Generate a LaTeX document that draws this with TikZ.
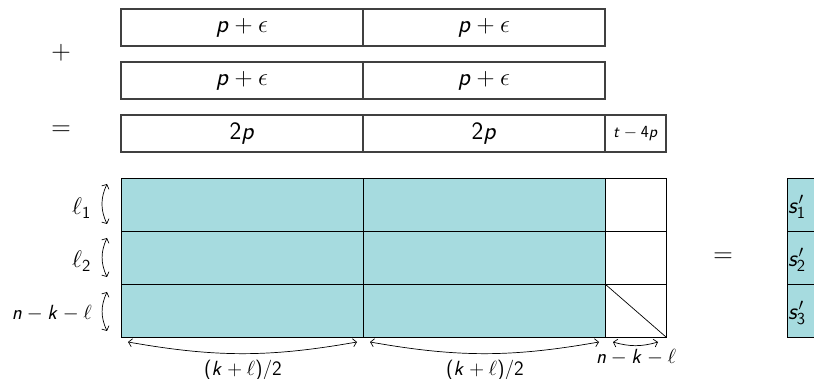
\documentclass[tikz,border=0pt]{standalone}
\usepackage{fix-cm}
\usetikzlibrary{arrows.meta}
\DeclareSymbolFont{sfoperators}{OT1}{cmss}{m}{n}
\DeclareSymbolFont{sfletters}{OT1}{cmss}{m}{sl}
\DeclareMathSymbol{p}{\mathalpha}{sfletters}{`p}
\DeclareMathSymbol{t}{\mathalpha}{sfletters}{`t}
\DeclareMathSymbol{k}{\mathalpha}{sfletters}{`k}
\DeclareMathSymbol{n}{\mathalpha}{sfletters}{`n}
\DeclareMathSymbol{s}{\mathalpha}{sfletters}{`s}
\DeclareMathSymbol{1}{\mathalpha}{sfoperators}{`1}
\DeclareMathSymbol{2}{\mathalpha}{sfoperators}{`2}
\DeclareMathSymbol{3}{\mathalpha}{sfoperators}{`3}
\DeclareMathSymbol{4}{\mathalpha}{sfoperators}{`4}
\DeclareMathSymbol{(}{\mathopen}{sfoperators}{`(}
\DeclareMathSymbol{)}{\mathclose}{sfoperators}{`)}
\DeclareMathSymbol{/}{\mathord}{sfoperators}{`/}
\definecolor{fillc}{RGB}{166,219,223}
\begin{document}
\begin{tikzpicture}[x=1pt,y=-1pt,
  topcell/.style={draw=black!75, line width=1.1pt, minimum height=37pt, inner sep=0pt, outer sep=0pt, anchor=west, font=\fontsize{25}{30}\selectfont},
  gridcell/.style={draw=black, line width=0.9pt, minimum height=53pt, inner sep=0pt, outer sep=0pt, anchor=west},
  bigsign/.style={inner sep=0pt, font=\fontsize{27}{32}\selectfont},
  lab/.style={inner sep=0pt, font=\fontsize{24}{28}\selectfont},
  small/.style={inner sep=0pt, font=\fontsize{20.5}{24}\selectfont},
  arcarrow/.style={{Straight Barb[length=3.5pt,width=8pt]}-{Straight Barb[length=3.5pt,width=8pt]}, line width=0.7pt}
]
\useasboundingbox (0,0) rectangle (814,379);
% top sums
\node[topcell, minimum width=242pt] (a1) at (121,27.5) {$p+\epsilon$};
\node[topcell, minimum width=242pt] (a2) at (363,27.5) {$p+\epsilon$};
\node[topcell, minimum width=242pt] (b1) at (121,80.5) {$p+\epsilon$};
\node[topcell, minimum width=242pt] (b2) at (363,80.5) {$p+\epsilon$};
\node[topcell, minimum width=242pt] (c1) at (121,133.5) {$2p$};
\node[topcell, minimum width=242pt] (c2) at (363,133.5) {$2p$};
\node[topcell, minimum width=61pt, font=\fontsize{17}{20}\selectfont] (c3) at (605,133.5) {$t-4p$};
\node[bigsign] (plus) at (61,53) {$+$};
\node[bigsign] (eqa) at (61,131) {$=$};
% grid
\foreach \r/\y in {1/204.5,2/257.5,3/310.5}{
  \node[gridcell, fill=fillc, minimum width=242pt] (g\r1) at (121,\y) {};
  \node[gridcell, fill=fillc, minimum width=242pt] (g\r2) at (363,\y) {};
  \node[gridcell, fill=white, minimum width=61pt] (g\r3) at (605,\y) {};
  \node[gridcell, fill=fillc, minimum width=60pt] (s\r) at (787,\y) {};
}
\draw[line width=0.7pt] (g33.north west) -- (g33.south east);
\node[lab, anchor=west] (sl1) at (788,207) {$s'_1$};
\node[lab, anchor=west] (sl2) at (788,260) {$s'_2$};
\node[lab, anchor=west] (sl3) at (788,313) {$s'_3$};
\node[bigsign] (eqb) at (723,258) {$=$};
% left labels
\node[lab, anchor=east] (l1) at (91,208) {$\ell_1$};
\node[lab, anchor=east] (l2) at (91,261) {$\ell_2$};
\node[small, anchor=east] (l3) at (92,313) {$n-k-\ell$};
\coordinate (r1t) at (107,184); \coordinate (r1b) at (107,224);
\coordinate (r2t) at (107,238); \coordinate (r2b) at (107,277);
\coordinate (r3t) at (107,292); \coordinate (r3b) at (107,331);
\draw[arcarrow] (r1t) to[bend right=25] (r1b);
\draw[arcarrow] (r2t) to[bend right=25] (r2b);
\draw[arcarrow] (r3t) to[bend right=25] (r3b);
% bottom
\coordinate (d1s) at (128,342); \coordinate (d1e) at (357,342);
\coordinate (d2s) at (370,342); \coordinate (d2e) at (599,342);
\coordinate (d3s) at (613,342); \coordinate (d3e) at (658,342);
\draw[arcarrow] (d1s) to[bend right=10] (d1e);
\draw[arcarrow] (d2s) to[bend right=10] (d2e);
\draw[arcarrow] (d3s) to[bend right=16] (d3e);
\node[small] (w1) at (243,370) {$(k+\ell)/2$};
\node[small] (w2) at (485,370) {$(k+\ell)/2$};
\node[small] (w3) at (636,357) {$n-k-\ell$};
\end{tikzpicture}
\end{document}
